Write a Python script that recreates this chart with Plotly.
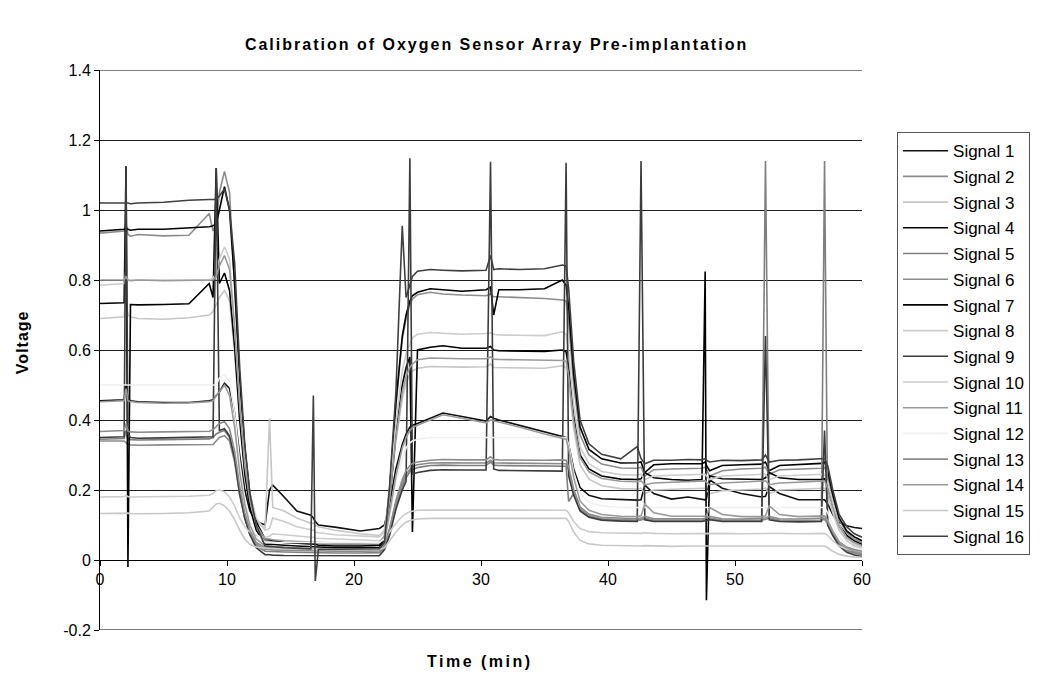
import plotly.graph_objects as go

# ---------------- data ----------------
TIME_MIN = [0.0, 1.9, 2.05, 2.2, 2.4, 3.0, 5.0, 7.0, 8.6, 8.9, 9.15,
            9.4, 9.8, 10.2, 10.6, 11.0, 11.4, 11.8, 12.3,
            13.0, 13.35, 13.6, 14.5, 15.5, 16.6, 16.8, 16.95, 17.2, 18.5, 20.5, 22.0, 22.4,
            22.8, 23.3, 23.8, 24.1, 24.4, 24.6, 25.0, 26.0, 27.0, 28.5, 30.4, 30.75,
            31.0, 31.4, 33.0, 35.0, 36.4, 36.7, 36.9, 37.3, 37.8, 38.5, 39.5, 41.0,
            42.3, 42.6, 42.9, 43.6, 45.0, 46.3, 47.4, 47.65, 47.75, 48.0, 49.0, 50.5, 52.1, 52.4, 52.7, 53.5, 55.0, 56.8,
            57.05, 57.3, 57.7, 58.2, 58.8, 59.4, 60.0]

signal_1 = [0.455, 0.458, 0.50, 0.46, 0.455, 0.452, 0.45, 0.45, 0.455, 0.458, 0.47,
            0.48, 0.505, 0.49, 0.42, 0.30, 0.20, 0.14, 0.11,
            0.10, 0.20, 0.214, 0.18, 0.14, 0.128, 0.12, 0.11, 0.10, 0.094, 0.083, 0.09, 0.10,
            0.16, 0.26, 0.33, 0.36, 0.38, 0.385, 0.39, 0.405, 0.42, 0.41, 0.397, 0.41,
            0.405, 0.40, 0.385, 0.365, 0.352, 0.35, 0.33, 0.26, 0.207, 0.185, 0.175, 0.172,
            0.171, 0.172, 0.214, 0.19, 0.174, 0.18, 0.172, 0.172, 0.175, 0.229, 0.205, 0.19, 0.18, 0.182, 0.21, 0.19, 0.172, 0.171,
            0.172, 0.16, 0.13, 0.108, 0.098, 0.093, 0.09]
signal_2 = [0.934, 0.94, 0.96, 0.93, 0.925, 0.93, 0.926, 0.928, 0.99, 0.94, 0.96,
            1.05, 1.11, 1.05, 0.78, 0.51, 0.31, 0.18, 0.10,
            0.055, 0.055, 0.052, 0.05, 0.048, 0.046, 0.046, 0.045, 0.045, 0.044, 0.044, 0.045, 0.065,
            0.20, 0.44, 0.63, 0.69, 0.73, 0.745, 0.758, 0.765, 0.76, 0.757, 0.755, 0.76,
            0.752, 0.752, 0.75, 0.747, 0.743, 0.74, 0.683, 0.50, 0.358, 0.30, 0.274, 0.263,
            0.262, 0.265, 0.24, 0.258, 0.26, 0.262, 0.262, 0.265, 0.26, 0.24, 0.255, 0.26, 0.262, 0.265, 0.245, 0.258, 0.26, 0.262,
            0.265, 0.24, 0.18, 0.115, 0.078, 0.06, 0.05]
signal_3 = [0.69, 0.695, 0.75, 0.70, 0.695, 0.69, 0.688, 0.692, 0.70, 0.71, 0.73,
            0.75, 0.77, 0.74, 0.59, 0.40, 0.26, 0.17, 0.11,
            0.09, 0.405, 0.15, 0.14, 0.12, 0.105, 0.105, 0.10, 0.095, 0.085, 0.075, 0.07, 0.085,
            0.18, 0.34, 0.46, 0.505, 0.53, 0.54, 0.548, 0.553, 0.552, 0.551, 0.552, 0.56,
            0.55, 0.55, 0.549, 0.548, 0.555, 0.55, 0.508, 0.377, 0.272, 0.231, 0.212, 0.204,
            0.203, 0.205, 0.19, 0.20, 0.202, 0.203, 0.203, 0.205, 0.20, 0.19, 0.198, 0.20, 0.203, 0.205, 0.19, 0.20, 0.202, 0.203,
            0.205, 0.185, 0.135, 0.085, 0.055, 0.04, 0.03]
signal_4 = [0.94, 0.945, 0.95, 0.945, 0.942, 0.945, 0.945, 0.948, 0.952, 0.955, 0.96,
            1.0, 1.067, 1.0, 0.79, 0.52, 0.32, 0.19, 0.11,
            0.06, 0.058, 0.055, 0.05, 0.048, 0.045, 0.045, 0.045, 0.042, 0.04, 0.04, 0.042, 0.06,
            0.20, 0.45, 0.64, 0.70, 0.74, 0.755, 0.765, 0.775, 0.772, 0.768, 0.772, 0.78,
            0.70, 0.772, 0.772, 0.775, 0.80, 0.785, 0.725, 0.53, 0.38, 0.316, 0.289, 0.277,
            0.278, 0.28, 0.25, 0.272, 0.275, 0.276, 0.275, 0.28, 0.27, 0.255, 0.27, 0.272, 0.274, 0.28, 0.255, 0.27, 0.273, 0.276,
            0.28, 0.255, 0.187, 0.12, 0.083, 0.066, 0.055]
signal_5 = [0.345, 0.347, 0.37, 0.345, 0.344, 0.343, 0.344, 0.345, 0.346, 0.35, 0.36,
            0.365, 0.37, 0.35, 0.29, 0.19, 0.12, 0.073, 0.04,
            0.025, 0.025, 0.024, 0.023, 0.022, 0.021, 0.021, 0.02, 0.02, 0.02, 0.02, 0.021, 0.035,
            0.08, 0.155, 0.21, 0.235, 0.252, 0.258, 0.264, 0.27, 0.271, 0.27, 0.27, 0.28,
            0.271, 0.27, 0.27, 0.269, 0.27, 0.268, 0.167, 0.19, 0.143, 0.124, 0.116, 0.113,
            0.112, 0.114, 0.118, 0.112, 0.111, 0.112, 0.112, 0.114, 0.114, 0.118, 0.112, 0.111, 0.112, 1.14, 0.12, 0.112, 0.111, 0.112,
            1.14, 0.10, 0.072, 0.043, 0.027, 0.019, 0.015]
signal_6 = [0.34, 0.34, 0.335, 0.33, 0.329, 0.328, 0.329, 0.33, 0.33, 0.33, 0.34,
            0.35, 0.355, 0.34, 0.28, 0.185, 0.12, 0.075, 0.045,
            0.03, 0.03, 0.029, 0.028, 0.027, 0.026, 0.026, 0.025, 0.025, 0.025, 0.025, 0.026, 0.04,
            0.085, 0.16, 0.22, 0.245, 0.26, 0.267, 0.272, 0.277, 0.278, 0.277, 0.277, 0.285,
            0.278, 0.277, 0.277, 0.276, 0.277, 0.275, 0.256, 0.195, 0.147, 0.127, 0.118, 0.115,
            0.114, 0.116, 0.12, 0.114, 0.113, 0.114, 0.114, 0.116, 0.116, 0.12, 0.114, 0.113, 0.114, 0.116, 0.12, 0.114, 0.113, 0.114,
            0.116, 0.103, 0.075, 0.047, 0.03, 0.022, 0.018]
signal_7 = [0.733, 0.735, 1.125, -0.02, 0.73, 0.729, 0.73, 0.732, 0.79, 0.75, 1.12,
            0.79, 0.82, 0.77, 0.61, 0.40, 0.245, 0.15, 0.085,
            0.045, 0.045, 0.044, 0.042, 0.04, 0.038, 0.038, 0.037, 0.036, 0.035, 0.035, 0.036, 0.055,
            0.17, 0.36, 0.50, 0.55, 0.58, 0.08, 0.60, 0.608, 0.612, 0.605, 0.605, 0.61,
            0.60, 0.598, 0.597, 0.596, 0.60, 0.595, 0.551, 0.41, 0.30, 0.26, 0.24, 0.231,
            0.23, 0.232, 0.25, 0.235, 0.23, 0.228, 0.23, 0.824, -0.115, 0.24, 0.232, 0.23, 0.23, 0.235, 0.25, 0.235, 0.23, 0.23,
            0.232, 0.21, 0.155, 0.10, 0.07, 0.054, 0.045]
signal_8 = [0.785, 0.79, 0.83, 0.80, 0.80, 0.80, 0.80, 0.80, 0.80, 0.805, 0.82,
            0.86, 0.895, 0.86, 0.67, 0.45, 0.29, 0.19, 0.12,
            0.085, 0.09, 0.12, 0.11, 0.095, 0.085, 0.085, 0.08, 0.078, 0.072, 0.068, 0.066, 0.08,
            0.20, 0.39, 0.54, 0.59, 0.62, 0.635, 0.645, 0.65, 0.648, 0.645, 0.647, 0.65,
            0.645, 0.643, 0.642, 0.641, 0.652, 0.645, 0.595, 0.445, 0.323, 0.275, 0.253, 0.244,
            0.243, 0.245, 0.23, 0.24, 0.242, 0.243, 0.243, 0.245, 0.24, 0.23, 0.24, 0.242, 0.243, 0.245, 0.23, 0.24, 0.242, 0.243,
            0.245, 0.22, 0.16, 0.10, 0.063, 0.045, 0.035]
signal_9 = [0.35, 0.352, 1.125, 0.36, 0.35, 0.348, 0.349, 0.35, 0.35, 0.352, 1.12,
            0.37, 0.375, 0.355, 0.29, 0.19, 0.12, 0.072, 0.035,
            0.015, 0.015, 0.014, 0.013, 0.013, 0.012, 0.012, 0.012, 0.012, 0.012, 0.012, 0.012, 0.03,
            0.07, 0.145, 0.20, 0.225, 1.148, 0.245, 0.25, 0.256, 0.258, 0.257, 0.257, 1.138,
            0.26, 0.256, 0.255, 0.254, 0.254, 1.135, 0.24, 0.185, 0.14, 0.122, 0.114, 0.111,
            0.11, 1.14, 0.115, 0.11, 0.109, 0.11, 0.11, 0.112, 0.112, 0.115, 0.11, 0.109, 0.11, 0.64, 0.115, 0.11, 0.109, 0.11,
            0.37, 0.10, 0.07, 0.04, 0.022, 0.014, 0.01]
signal_10 = [0.18, 0.181, 0.185, 0.181, 0.18, 0.18, 0.18, 0.182, 0.185, 0.19, 0.198,
             0.20, 0.195, 0.18, 0.155, 0.12, 0.095, 0.08, 0.07,
             0.065, 0.068, 0.075, 0.072, 0.068, 0.065, 0.065, 0.063, 0.062, 0.06, 0.057, 0.055, 0.06,
             0.08, 0.105, 0.125, 0.133, 0.138, 0.14, 0.142, 0.143, 0.143, 0.143, 0.143, 0.143,
             0.143, 0.143, 0.143, 0.143, 0.143, 0.142, 0.135, 0.11, 0.09, 0.081, 0.078, 0.076,
             0.076, 0.076, 0.078, 0.076, 0.075, 0.076, 0.076, 0.076, 0.076, 0.077, 0.076, 0.075, 0.076, 0.076, 0.077, 0.076, 0.075, 0.076,
             0.076, 0.07, 0.055, 0.04, 0.031, 0.027, 0.025]
signal_11 = [0.80, 0.80, 0.81, 0.80, 0.798, 0.80, 0.798, 0.80, 0.80, 0.80, 0.81,
             0.84, 0.87, 0.83, 0.665, 0.44, 0.27, 0.17, 0.10,
             0.06, 0.06, 0.058, 0.055, 0.053, 0.05, 0.05, 0.05, 0.05, 0.048, 0.048, 0.05, 0.07,
             0.17, 0.35, 0.48, 0.525, 0.55, 0.56, 0.572, 0.577, 0.576, 0.575, 0.575, 0.58,
             0.574, 0.573, 0.572, 0.571, 0.57, 0.568, 0.528, 0.397, 0.293, 0.252, 0.233, 0.225,
             0.224, 0.226, 0.215, 0.22, 0.222, 0.223, 0.224, 0.226, 0.222, 0.215, 0.22, 0.222, 0.224, 0.226, 0.215, 0.22, 0.222, 0.224,
             0.226, 0.205, 0.15, 0.095, 0.064, 0.05, 0.04]
signal_12 = [0.50, 0.50, 0.50, 0.50, 0.50, 0.50, 0.50, 0.50, 0.50, 0.50, 0.50,
             0.52, 0.53, 0.51, 0.42, 0.28, 0.17, 0.11, 0.075,
             0.05, 0.05, 0.05, 0.05, 0.05, 0.05, 0.05, 0.05, 0.05, 0.05, 0.05, 0.05, 0.06,
             0.12, 0.22, 0.29, 0.32, 0.335, 0.34, 0.345, 0.35, 0.35, 0.35, 0.35, 0.35,
             0.35, 0.35, 0.35, 0.35, 0.35, 0.35, 0.33, 0.25, 0.19, 0.165, 0.155, 0.15,
             0.15, 0.15, 0.15, 0.15, 0.15, 0.15, 0.15, 0.15, 0.15, 0.15, 0.15, 0.15, 0.15, 0.15, 0.15, 0.15, 0.15, 0.15,
             0.15, 0.135, 0.10, 0.065, 0.045, 0.035, 0.03]
signal_13 = [0.367, 0.37, 0.39, 0.368, 0.366, 0.365, 0.366, 0.367, 0.368, 0.372, 0.38,
             0.39, 0.395, 0.375, 0.31, 0.21, 0.135, 0.085, 0.05,
             0.035, 0.035, 0.034, 0.033, 0.032, 0.031, 0.031, 0.03, 0.03, 0.03, 0.03, 0.031, 0.045,
             0.09, 0.17, 0.23, 0.255, 0.27, 0.276, 0.28, 0.285, 0.287, 0.286, 0.286, 0.295,
             0.287, 0.286, 0.285, 0.285, 0.286, 0.285, 0.266, 0.202, 0.152, 0.131, 0.122, 0.119,
             0.118, 0.12, 0.125, 0.118, 0.117, 0.118, 0.118, 0.12, 0.12, 0.125, 0.118, 0.117, 0.118, 0.12, 0.125, 0.118, 0.117, 0.118,
             0.12, 0.108, 0.08, 0.052, 0.037, 0.03, 0.025]
signal_14 = [0.452, 0.455, 0.49, 0.455, 0.453, 0.45, 0.448, 0.449, 0.452, 0.455, 0.47,
             0.48, 0.50, 0.47, 0.38, 0.25, 0.16, 0.10, 0.06,
             0.04, 0.04, 0.039, 0.037, 0.035, 0.033, 0.033, 0.032, 0.032, 0.03, 0.03, 0.031, 0.05,
             0.13, 0.24, 0.32, 0.35, 0.37, 0.378, 0.385, 0.40, 0.415, 0.405, 0.392, 0.40,
             0.398, 0.395, 0.38, 0.36, 0.348, 0.345, 0.318, 0.235, 0.168, 0.142, 0.13, 0.125,
             0.124, 0.126, 0.16, 0.135, 0.125, 0.124, 0.124, 0.125, 0.126, 0.15, 0.13, 0.124, 0.124, 0.126, 0.155, 0.13, 0.124, 0.124,
             0.126, 0.113, 0.083, 0.052, 0.034, 0.025, 0.02]
signal_15 = [0.133, 0.134, 0.136, 0.134, 0.133, 0.132, 0.133, 0.135, 0.14, 0.15, 0.16,
             0.162, 0.155, 0.14, 0.115, 0.085, 0.06, 0.045, 0.037,
             0.034, 0.034, 0.033, 0.032, 0.031, 0.03, 0.03, 0.03, 0.03, 0.03, 0.03, 0.03, 0.035,
             0.055, 0.08, 0.10, 0.108, 0.113, 0.115, 0.117, 0.119, 0.119, 0.119, 0.12, 0.12,
             0.12, 0.12, 0.12, 0.12, 0.12, 0.119, 0.11, 0.08, 0.056, 0.046, 0.042, 0.04,
             0.04, 0.04, 0.041, 0.04, 0.039, 0.04, 0.04, 0.04, 0.04, 0.041, 0.04, 0.039, 0.04, 0.04, 0.041, 0.04, 0.039, 0.04,
             0.04, 0.035, 0.025, 0.016, 0.011, 0.009, 0.008]
signal_16 = [1.02, 1.02, 1.022, 1.02, 1.018, 1.02, 1.022, 1.028, 1.03, 1.03, 1.03,
             1.04, 1.06, 1.0, 0.85, 0.55, 0.33, 0.19, 0.10,
             0.04, 0.04, 0.038, 0.035, 0.033, 0.032, 0.47, -0.06, 0.03, 0.03, 0.03, 0.032, 0.05,
             0.21, 0.48, 0.955, 0.75, 0.79, 0.81, 0.825, 0.83, 0.828, 0.826, 0.828, 0.87,
             0.83, 0.832, 0.83, 0.832, 0.843, 0.84, 0.776, 0.566, 0.40, 0.332, 0.302, 0.289,
             0.324, 0.29, 0.275, 0.285, 0.285, 0.287, 0.286, 0.29, 0.285, 0.28, 0.285, 0.284, 0.286, 0.30, 0.28, 0.285, 0.286, 0.29,
             0.29, 0.27, 0.20, 0.13, 0.095, 0.075, 0.065]

SERIES_NAMES = [f"Signal {i}" for i in range(1, 17)]
SERIES_VALUES = [signal_1, signal_2, signal_3, signal_4, signal_5, signal_6, signal_7, signal_8,
                 signal_9, signal_10, signal_11, signal_12, signal_13, signal_14, signal_15, signal_16]
SERIES_COLORS = ["#111111", "#8c8c8c", "#c6c6c6", "#000000", "#7f7f7f", "#8a8a8a", "#000000", "#cccccc",
                 "#3c3c3c", "#cccccc", "#9a9a9a", "#f0f0f0", "#8c8c8c", "#9a9a9a", "#c8c8c8", "#404040"]

Y_TICK_VALUES = [-0.2, 0, 0.2, 0.4, 0.6, 0.8, 1.0, 1.2, 1.4]
Y_TICK_LABELS = ["-0.2", "0", "0.2", "0.4", "0.6", "0.8", "1", "1.2", "1.4"]
X_TICK_VALUES = [0, 10, 20, 30, 40, 50, 60]

for name, vals in zip(SERIES_NAMES, SERIES_VALUES):
    assert len(vals) == len(TIME_MIN), (name, len(vals), len(TIME_MIN))

FONT = "Liberation Sans, Arial, sans-serif"

fig = go.Figure()
for i, (name, vals, col) in enumerate(zip(SERIES_NAMES, SERIES_VALUES, SERIES_COLORS)):
    fig.add_trace(go.Scatter(x=TIME_MIN, y=vals, mode="lines", name=name,
                             line=dict(color=col, width=1.6), legendgroup=f"g{i:02d}"))

fig.update_layout(
    width=1052, height=677, autosize=False,
    margin=dict(l=100, r=190, t=70, b=47),
    paper_bgcolor="white", plot_bgcolor="white",
    font=dict(family=FONT, size=15, color="black"),
    showlegend=True,
    title=dict(text='<span style="letter-spacing:2px"><b>Calibration of Oxygen Sensor Array Pre-implantation</b></span>',
               x=0.472, xanchor="center", y=0.934, yanchor="middle",
               font=dict(family=FONT, size=16, color="black")),
    legend=dict(x=1.046, xanchor="left", y=0.889, yanchor="top",
                bordercolor="#555555", borderwidth=1, bgcolor="white",
                font=dict(family=FONT, size=17, color="black"),
                itemwidth=45, tracegroupgap=0.6, traceorder="grouped",
                entrywidth=88, entrywidthmode="pixels"),
    xaxis=dict(range=[0, 60], tickvals=X_TICK_VALUES, ticks="outside", ticklen=5,
               tickcolor="black", showline=True, linecolor="black", linewidth=1,
               showgrid=False, zeroline=False, anchor="free", position=0.125,
               tickfont=dict(family=FONT, size=16, color="black")),
    yaxis=dict(range=[-0.2, 1.4], tickvals=Y_TICK_VALUES, ticktext=Y_TICK_LABELS,
               ticks="outside", ticklen=5, tickcolor="black",
               showline=True, linecolor="black", linewidth=1,
               showgrid=True, gridcolor="#1e1e1e", gridwidth=1, zeroline=False,
               tickfont=dict(family=FONT, size=16, color="black")),
    annotations=[
        dict(text='<span style="letter-spacing:2.5px"><b>Time (min)</b></span>', xref="paper", yref="paper",
             x=0.4987, y=-0.0554, xanchor="center", yanchor="middle", showarrow=False,
             font=dict(family=FONT, size=16, color="black")),
        dict(text='<span style="letter-spacing:1px"><b>Voltage</b></span>', xref="paper", yref="paper",
             x=-0.1024, y=0.514, xanchor="center", yanchor="middle", showarrow=False, textangle=-90,
             font=dict(family=FONT, size=16, color="black")),
    ],
    shapes=[
        dict(type="line", xref="paper", yref="y", x0=0, x1=1, y0=1.4, y1=1.4,
             line=dict(color="#808080", width=2), layer="above"),
        dict(type="line", xref="paper", yref="y", x0=0, x1=1, y0=-0.2, y1=-0.2,
             line=dict(color="#808080", width=2), layer="above"),
    ],
)

fig.write_html("out.html")
